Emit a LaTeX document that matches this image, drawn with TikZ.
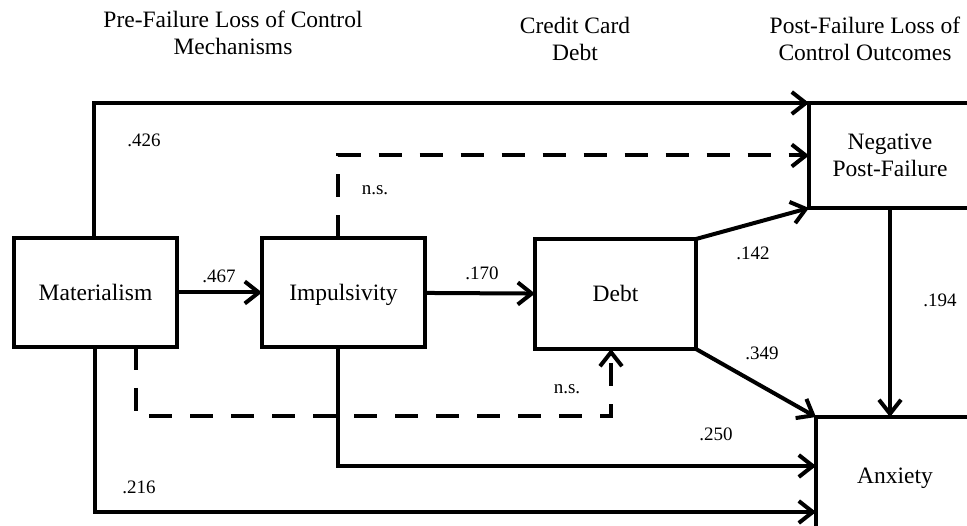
\documentclass[tikz,border=0pt]{standalone}
\usepackage{fontspec}
\setmainfont{Liberation Serif}
\usetikzlibrary{positioning,arrows.meta}

\begin{document}
\begin{tikzpicture}[x=1pt,y=-1pt,>={Straight Barb[length=14pt,width=22pt]},
on grid, line width=4pt,
blk/.style ={draw, rectangle, inner sep=0pt, outer sep=0pt,
  minimum width=163pt, minimum height=109pt, align=center,
  font=\fontsize{23.5}{27}\selectfont},
oneline/.style ={text height=21pt, text depth=5pt},
hdr/.style ={align=center, font=\fontsize{23.5}{27}\selectfont},
coef/.style ={inner sep=0pt, font=\fontsize{19}{22}\selectfont},
nsline/.style ={dash pattern=on 23pt off 18pt}
]
\useasboundingbox (0,0) rectangle (967,526);
\clip (0,0) rectangle (967,526);
% headers
\node[hdr] (hpre) at (233,33) {Pre-Failure Loss of Control\\Mechanisms};
\node[hdr] (hdebt) at (575,39) {Credit Card\\Debt};
\node[hdr] (hpost) at (865,39) {Post-Failure Loss of\\Control Outcomes};
% boxes
\node[blk, oneline] (Mat) at (95.5,292.5) {Materialism};
\node[blk, oneline] (Imp) [right=248pt of Mat] {Impulsivity};
\node[blk, oneline, minimum width=161pt, minimum height=110pt] (Debt) [right=272pt of Imp, yshift=-1.5pt] {Debt};
\node[blk, minimum width=162pt, minimum height=105pt] (Neg) [above right=138.5pt and 274.5pt of Debt] {Negative\\Post-Failure};
\node[blk, oneline, minimum width=158pt, minimum height=118pt] (Anx) [below right=182pt and 279.5pt of Debt] {Anxiety};
% paths
\draw[->] ([xshift=-1.5pt]Mat.north) |- (Neg.north west);
\draw[->] (Mat) -- (Imp);
\draw[->] (Imp) -- (Debt);
\draw[->, nsline] ([xshift=-5.5pt]Imp.north) |- (Neg.west);
\draw[->] (Debt.north east) -- (Neg.south west);
\draw[->] (Debt.south east) -- (Anx.north west);
\draw[->] (Neg.south) -- (Neg.south |- Anx.north);
\draw[->] ([xshift=-5.5pt]Imp.south) |- ([yshift=10pt]Anx.west);
\draw[->] ([xshift=-1pt]Mat.south) |- ([yshift=-36pt]Anx.west);
\draw[->, nsline] ([xshift=40.5pt]Mat.south) -- ++(0,69) -| ([xshift=-4.5pt]Debt.south);
% coefficients
\node[coef] (c426) at (144,140) {.426};
\node[coef] (c467) at (219,276) {.467};
\node[coef] (c170) at (482,273) {.170};
\node[coef] (cns1) at (375,190) {n.s.};
\node[coef] (c142) at (753,253) {.142};
\node[coef] (c349) at (762,353) {.349};
\node[coef] (c194) at (940,300) {.194};
\node[coef] (cns2) at (567,389) {n.s.};
\node[coef] (c250) at (716,434) {.250};
\node[coef] (c216) at (139,487) {.216};
\end{tikzpicture}
\end{document}
